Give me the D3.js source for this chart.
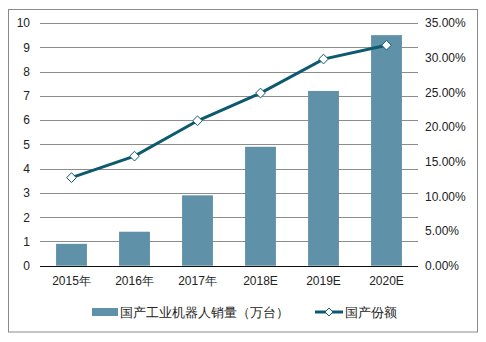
<!DOCTYPE html>
<html><head><meta charset="utf-8">
<script src="https://cdn.jsdelivr.net/npm/d3@7"></script>
<style>body{margin:0;background:#fff}svg{display:block}</style>
</head><body>
<svg id="c" width="486" height="342"></svg>
<script>
const categories = ["2015年","2016年","2017年","2018E","2019E","2020E"];
const salesValues = [0.9, 1.4, 2.9, 4.9, 7.2, 9.5];
const shareValues = [0.127, 0.158, 0.209, 0.249, 0.298, 0.318];
const leftTicks = [0,1,2,3,4,5,6,7,8,9,10];
const rightTicks = [0,0.05,0.10,0.15,0.20,0.25,0.30,0.35];
const seriesNames = ["国产工业机器人销量（万台）","国产份额"];

const svg = d3.select("#c");
const font = "Liberation Sans, Arial, sans-serif";
const m = {l:40, r:418, t:23, b:265.7};
svg.append("rect").attr("x",8.5).attr("y",9.5).attr("width",469).attr("height",322.5)
  .attr("fill","#fff").attr("stroke","#8a8a8a");

const x = d3.scaleBand().domain(categories).range([m.l,m.r]).paddingInner(0.51).paddingOuter(0.255);
const y = d3.scaleLinear().domain([0,10]).range([m.b,m.t]);
const y2 = d3.scaleLinear().domain([0,0.35]).range([m.b,m.t]);

// gridlines
svg.append("g").selectAll("line").data(leftTicks.filter(d=>d>0)).join("line")
  .attr("x1",m.l).attr("x2",m.r).attr("y1",d=>Math.round(y(d))+0.5).attr("y2",d=>Math.round(y(d))+0.5)
  .attr("stroke","#8c8c8c").attr("stroke-width",1);

// left axis
const ga = svg.append("g").attr("transform",`translate(${m.l},0)`)
  .call(d3.axisLeft(y).tickValues(leftTicks).tickSize(0).tickPadding(10).tickFormat(d3.format("d")));
ga.select(".domain").remove();
ga.selectAll("text").attr("font-family",font).attr("font-size",12).attr("fill","#222");

// right axis
const gr = svg.append("g").attr("transform",`translate(${m.r},0)`)
  .call(d3.axisRight(y2).tickValues(rightTicks).tickSize(0).tickPadding(7).tickFormat(d3.format(".2%")));
gr.select(".domain").remove();
gr.selectAll("text").attr("font-family",font).attr("font-size",12).attr("fill","#222");

// bars
svg.append("g").selectAll("rect").data(salesValues).join("rect")
  .attr("x",(d,i)=>x(categories[i])).attr("width",x.bandwidth())
  .attr("y",d=>y(d)).attr("height",d=>y(0)-y(d)).attr("fill","#5f91a8");

// x axis
const gx = svg.append("g").attr("transform",`translate(0,${Math.round(m.b)+0.5})`)
  .call(d3.axisBottom(x).tickSize(0).tickPadding(10));
gx.select(".domain").attr("stroke","#111").attr("d",`M${m.l},0H${m.r}`);
gx.selectAll("text").attr("font-family",font).attr("font-size",12).attr("fill","#222");

// line
const cx = (d,i)=>x(categories[i])+x.bandwidth()/2;
svg.append("path").datum(shareValues)
  .attr("d",d3.line().x(cx).y(d=>y2(d)))
  .attr("fill","none").attr("stroke","#0d5a6f").attr("stroke-width",3);
const diamond = d3.symbol().type(d3.symbolDiamond2).size(60);
svg.append("g").selectAll("path").data(shareValues).join("path")
  .attr("d",diamond).attr("transform",(d,i)=>`translate(${cx(d,i)},${y2(d)}) rotate(0)`)
  .attr("fill","#fff").attr("stroke","#0d5a6f").attr("stroke-width",1);

// legend
const lg = svg.append("g").attr("font-family",font).attr("font-size",13).attr("fill","#222");
lg.append("rect").attr("x",92).attr("y",308).attr("width",26).attr("height",8).attr("fill","#5f91a8");
lg.append("text").attr("x",120).attr("y",316.5).text(seriesNames[0]);
lg.append("line").attr("x1",315).attr("x2",343).attr("y1",312).attr("y2",312).attr("stroke","#0d5a6f").attr("stroke-width",3);
lg.append("path").attr("d",d3.symbol().type(d3.symbolDiamond2).size(40)).attr("transform","translate(329,312)")
  .attr("fill","#fff").attr("stroke","#0d5a6f").attr("stroke-width",1);
lg.append("text").attr("x",345).attr("y",316.5).text(seriesNames[1]);
</script>
</body></html>
